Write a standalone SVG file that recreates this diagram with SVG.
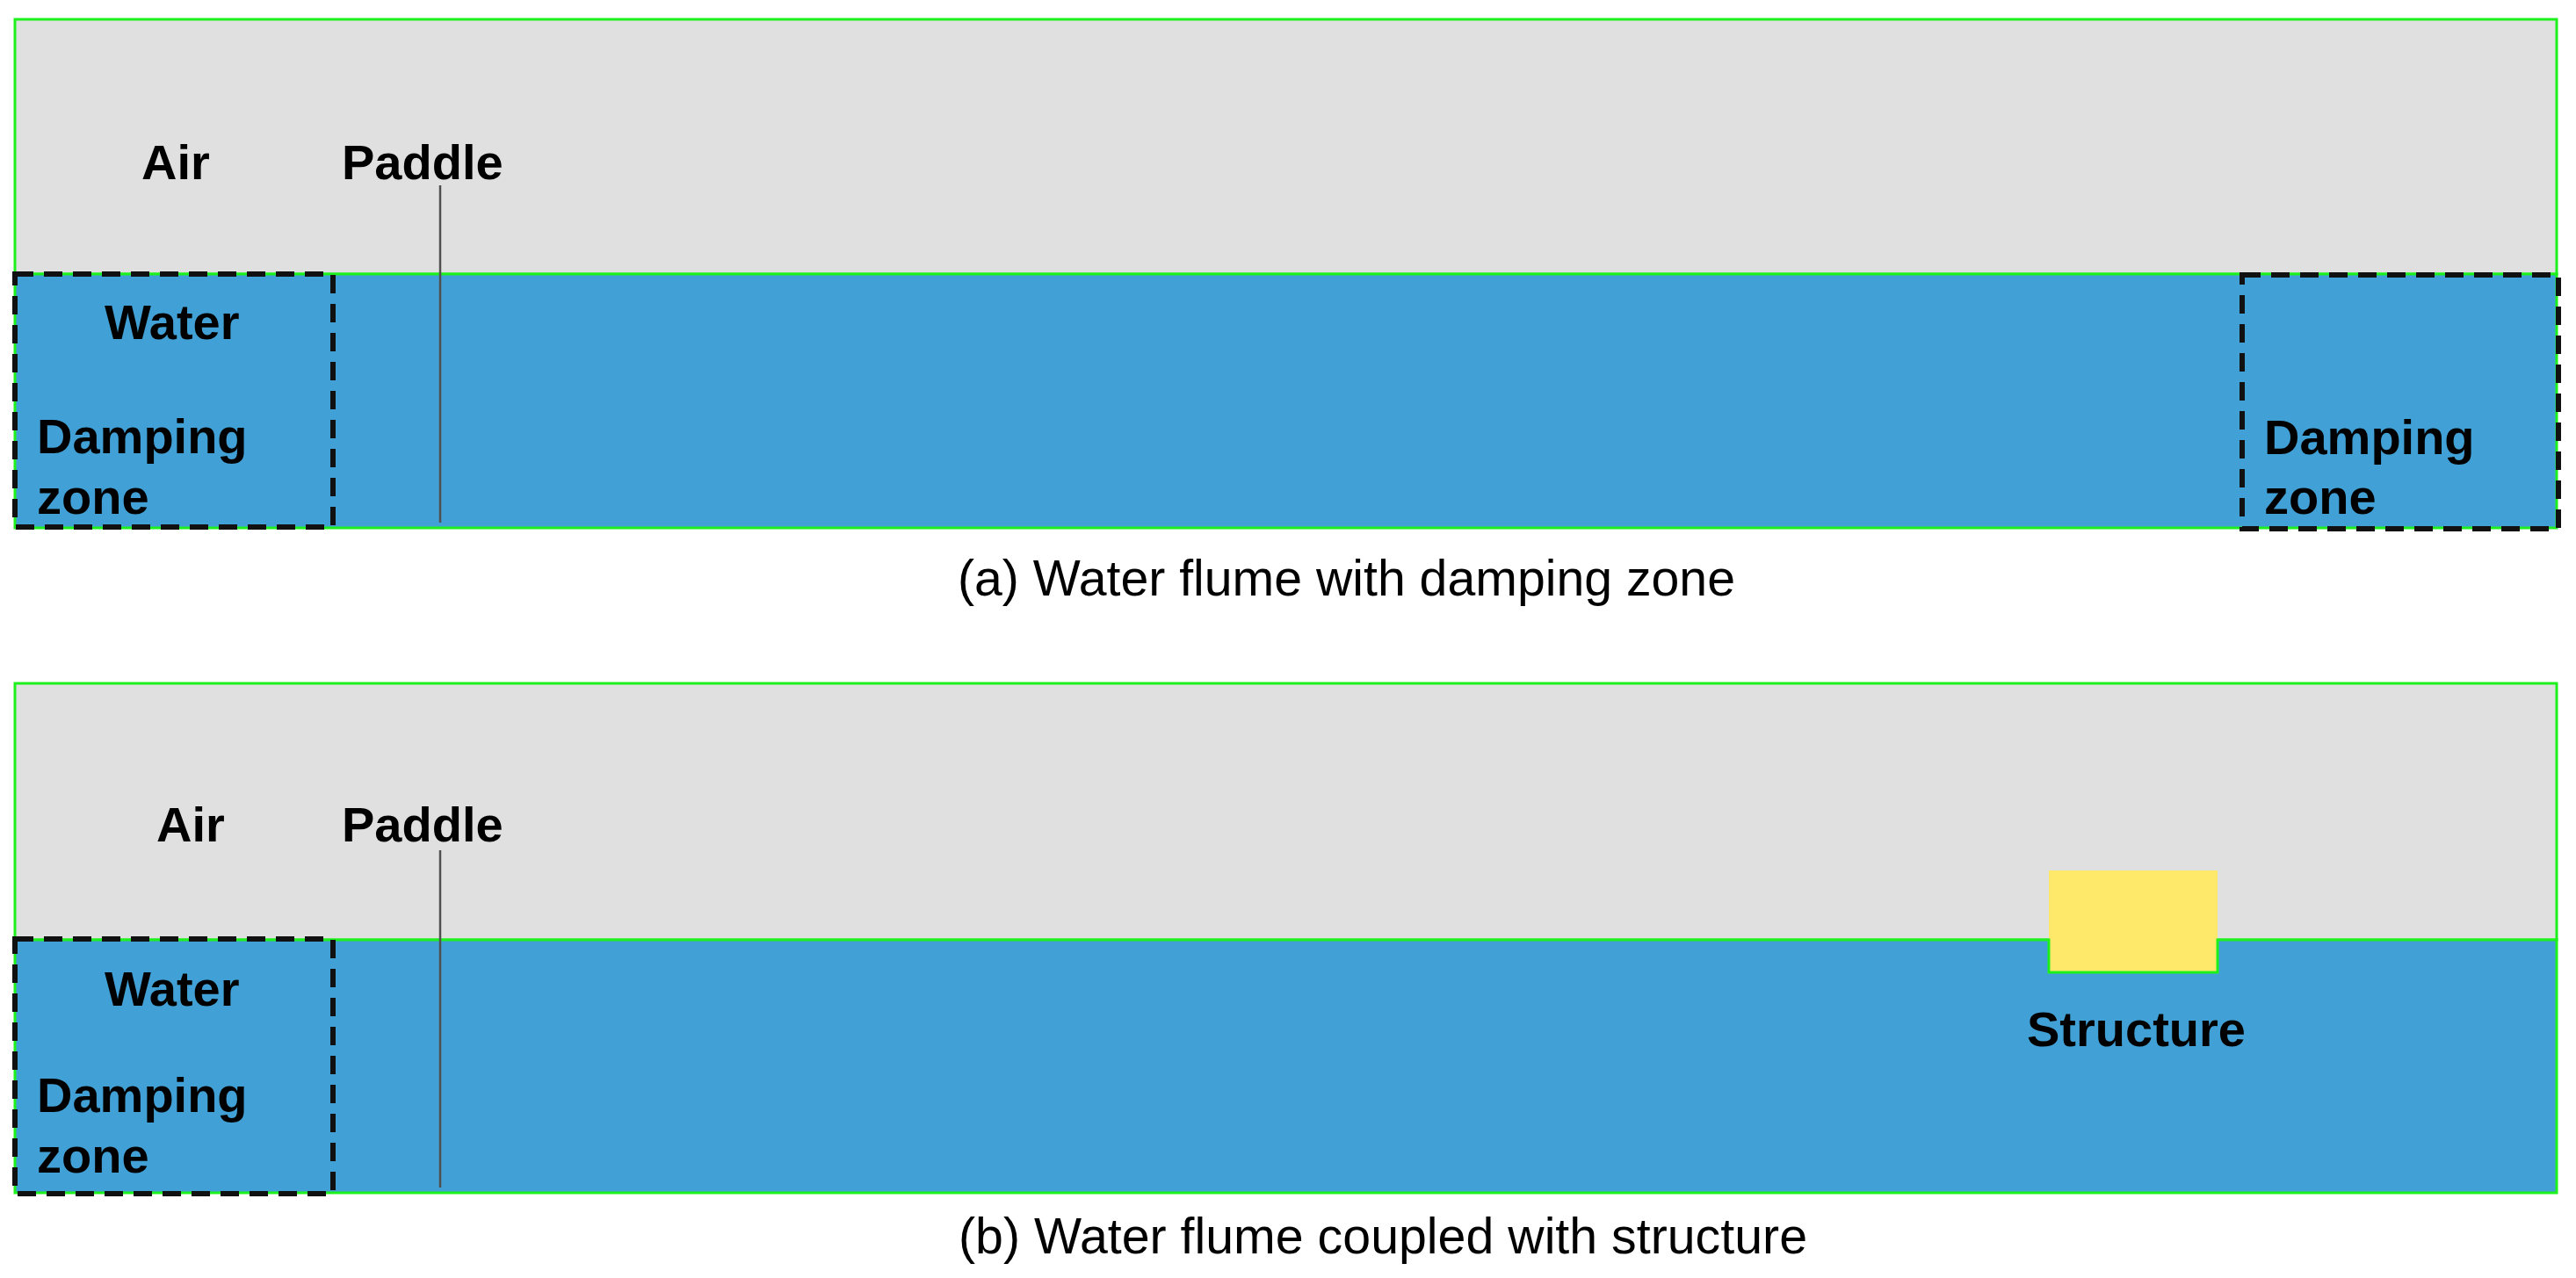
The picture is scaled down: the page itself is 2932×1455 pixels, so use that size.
<svg xmlns="http://www.w3.org/2000/svg" width="2932" height="1455" viewBox="0 0 2932 1455">
  <style>
    .air { fill: #e0e0e0; stroke: #1ef01e; stroke-width: 3; }
    .water { fill: #41a1d6; stroke: #1ef01e; stroke-width: 3; }
    .damp { fill: none; stroke: #111111; stroke-width: 6; stroke-dasharray: 21 12; }
    .paddle { stroke: #505050; stroke-width: 2.5; }
    .lbl { font-family: "Liberation Sans", Arial, sans-serif; font-weight: bold; font-size: 56px; fill: #000000; }
    .cap { font-family: "Liberation Sans", Arial, sans-serif; font-size: 57px; fill: #000000; }
  </style>
  <rect width="2932" height="1455" fill="#ffffff"/>

  <!-- Panel (a) -->
  <g id="panel-a">
    <rect id="air-a" class="air" x="17" y="22" width="2893" height="290"/>
    <rect id="water-a" class="water" x="17" y="312" width="2893" height="289"/>
    <text class="lbl" x="161" y="204">Air</text>
    <text class="lbl" x="389" y="204">Paddle</text>
    <text class="lbl" x="119" y="386">Water</text>
  </g>
  <g id="damping-a-left">
    <rect class="damp" x="17" y="312" width="362" height="288"/>
    <text class="lbl" x="42" y="516">Damping</text>
    <text class="lbl" x="42" y="585">zone</text>
  </g>
  <g id="damping-a-right">
    <rect class="damp" x="2552" y="313" width="360" height="289"/>
    <text class="lbl" x="2577" y="517">Damping</text>
    <text class="lbl" x="2577" y="585">zone</text>
  </g>
  <g id="paddle-a">
    <line class="paddle" x1="501" y1="211" x2="501" y2="595"/>
  </g>
  <text id="caption-a" class="cap" x="1090" y="678" textLength="885" lengthAdjust="spacingAndGlyphs">(a) Water flume with damping zone</text>

  <!-- Panel (b) -->
  <g id="panel-b">
    <rect id="air-b" class="air" x="17" y="778" width="2893" height="292"/>
    <rect id="structure" x="2332" y="991" width="192" height="116" fill="#ffe96a"/>
    <path id="water-b" class="water" d="M17,1070 H2332 V1107 H2524 V1070 H2910 V1358 H17 Z"/>
    <text class="lbl" x="178" y="958">Air</text>
    <text class="lbl" x="389" y="958">Paddle</text>
    <text class="lbl" x="119" y="1145">Water</text>
    <text class="lbl" x="2307" y="1191">Structure</text>
  </g>
  <g id="damping-b-left">
    <rect class="damp" x="17" y="1069" width="362" height="290"/>
    <text class="lbl" x="42" y="1266">Damping</text>
    <text class="lbl" x="42" y="1335">zone</text>
  </g>
  <g id="paddle-b">
    <line class="paddle" x1="501" y1="968" x2="501" y2="1352"/>
  </g>
  <text id="caption-b" class="cap" x="1091" y="1427" textLength="966" lengthAdjust="spacingAndGlyphs">(b) Water flume coupled with structure</text>

  <g id="connectors"></g>
</svg>
